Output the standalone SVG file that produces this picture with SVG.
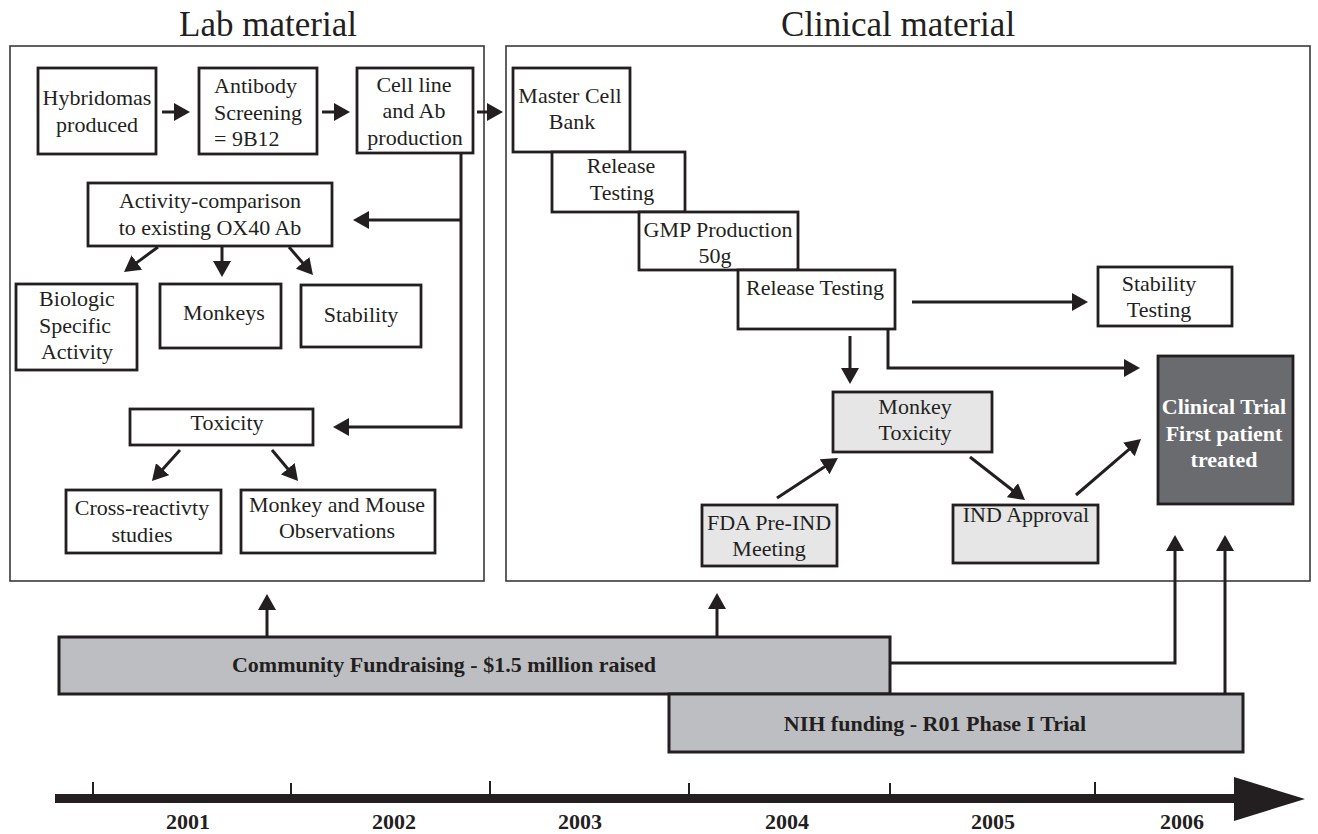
<svg xmlns="http://www.w3.org/2000/svg" width="1318" height="834" viewBox="0 0 1318 834" font-family="'Liberation Serif', Tinos, 'DejaVu Serif', serif">
<style>
text{font-family:'Liberation Serif',Tinos,'DejaVu Serif',serif;fill:#231f20;}
.t{font-size:22px;text-anchor:middle;}
.s{font-size:22px;text-anchor:start;}
.title{font-size:35px;text-anchor:middle;}
.b{font-weight:bold;font-size:22px;text-anchor:middle;}
.w{fill:#ffffff;}
.panel{fill:none;stroke:#3a3a3a;stroke-width:1.6;}
.box{fill:#ffffff;stroke:#231f20;stroke-width:2.8;}
.lg{fill:#e6e6e7;stroke:#231f20;stroke-width:2.8;}
.dk{fill:#6a6b6f;stroke:#231f20;stroke-width:2.8;}
.bar{fill:#bdbec2;stroke:#231f20;stroke-width:3;}
.c{fill:none;stroke:#231f20;stroke-width:3;marker-end:url(#ah);}
.tick{stroke:#231f20;stroke-width:2;}
</style>
<defs>
<marker id="ah" markerUnits="userSpaceOnUse" markerWidth="16" markerHeight="18" viewBox="0 0 16 18" refX="1" refY="9" orient="auto">
<path d="M0,0 L16,9 L0,18 z" fill="#231f20"/>
</marker>
</defs>

<g id="panels">
<rect class="panel" x="10" y="46" width="474" height="535"/>
<rect class="panel" x="506" y="46" width="804" height="535"/>
<text class="title" x="268" y="36">Lab material</text>
<text class="title" x="898" y="36">Clinical material</text>
</g>

<g id="connectors">
<line class="c" x1="162" y1="112" x2="175" y2="112"/>
<line class="c" x1="322" y1="112" x2="335" y2="112"/>
<line class="c" x1="477" y1="112" x2="488" y2="112"/>
<path class="c" d="M461,153 V427 H348"/>
<line class="c" x1="461" y1="220" x2="368" y2="220"/>
<line class="c" x1="158" y1="247" x2="136.1" y2="263.1"/>
<line class="c" x1="222" y1="247" x2="222" y2="262"/>
<line class="c" x1="289" y1="247" x2="303.2" y2="263.6"/>
<line class="c" x1="180" y1="450" x2="162" y2="469.9"/>
<line class="c" x1="272" y1="450" x2="288.4" y2="469.5"/>
<line class="c" x1="850" y1="336" x2="850" y2="369"/>
<line class="c" x1="912" y1="302" x2="1073" y2="302"/>
<path class="c" d="M888,329 V368 H1125"/>
<line class="c" x1="777" y1="498" x2="825.4" y2="466.2"/>
<line class="c" x1="970" y1="457" x2="1013.2" y2="490.8"/>
<line class="c" x1="1076" y1="495" x2="1129.6" y2="448.8"/>
<line class="c" x1="267" y1="637" x2="267" y2="609"/>
<line class="c" x1="717" y1="637" x2="717" y2="608"/>
<path class="c" d="M890,663 H1175 V550"/>
<path class="c" d="M1225,694 V550"/>
</g>

<g id="hybridomas">
<rect class="box" x="38" y="68" width="118" height="86"/>
<text class="t" x="97" y="105">Hybridomas</text>
<text class="t" x="97" y="132">produced</text>
</g>
<g id="antibody-screening">
<rect class="box" x="199" y="68" width="118" height="86"/>
<text class="s" x="214" y="93">Antibody</text>
<text class="s" x="214" y="120">Screening</text>
<text class="s" x="214" y="146">= 9B12</text>
</g>
<g id="cell-line">
<rect class="box" x="357" y="68" width="116" height="85"/>
<text class="t" x="414" y="92">Cell line</text>
<text class="t" x="414" y="118">and Ab</text>
<text class="t" x="415" y="145">production</text>
</g>
<g id="activity-comparison">
<rect class="box" x="88" y="183" width="244" height="63"/>
<text class="t" x="210" y="208">Activity-comparison</text>
<text class="t" x="210" y="235">to existing OX40 Ab</text>
</g>
<g id="biologic">
<rect class="box" x="16" y="284" width="121" height="86"/>
<text class="t" x="77" y="306">Biologic</text>
<text class="t" x="75" y="333">Specific</text>
<text class="t" x="77" y="359">Activity</text>
</g>
<g id="monkeys">
<rect class="box" x="160" y="284" width="121" height="64"/>
<text class="t" x="224" y="320">Monkeys</text>
</g>
<g id="stability">
<rect class="box" x="301" y="285" width="120" height="62"/>
<text class="t" x="361" y="322">Stability</text>
</g>
<g id="toxicity">
<rect class="box" x="130" y="409" width="183" height="36"/>
<text class="t" x="227" y="430">Toxicity</text>
</g>
<g id="cross-reactivity">
<rect class="box" x="66" y="490" width="155" height="63"/>
<text class="t" x="142" y="515">Cross-reactivty</text>
<text class="t" x="142" y="542">studies</text>
</g>
<g id="monkey-mouse">
<rect class="box" x="241" y="490" width="194" height="63"/>
<text class="t" x="337" y="512">Monkey and Mouse</text>
<text class="t" x="337" y="538">Observations</text>
</g>

<g id="master-cell-bank">
<rect class="box" x="513" y="68" width="117" height="84"/>
<text class="t" x="570" y="103">Master Cell</text>
<text class="t" x="572" y="129">Bank</text>
</g>
<g id="release-testing-1">
<rect class="box" x="552" y="152" width="133" height="60"/>
<text class="t" x="621" y="173">Release</text>
<text class="t" x="622" y="200">Testing</text>
</g>
<g id="gmp-production">
<rect class="box" x="639" y="212" width="159" height="58"/>
<text class="t" x="718" y="237">GMP Production</text>
<text class="t" x="715" y="263">50g</text>
</g>
<g id="release-testing-2">
<rect class="box" x="738" y="270" width="157" height="59"/>
<text class="t" x="815" y="295">Release Testing</text>
</g>
<g id="stability-testing">
<rect class="box" x="1098" y="267" width="134" height="59"/>
<text class="t" x="1159" y="291">Stability</text>
<text class="t" x="1159" y="317">Testing</text>
</g>
<g id="monkey-toxicity">
<rect class="lg" x="833" y="392" width="159" height="60"/>
<text class="t" x="915" y="414">Monkey</text>
<text class="t" x="915" y="440">Toxicity</text>
</g>
<g id="fda-pre-ind">
<rect class="lg" x="702" y="505" width="135" height="61"/>
<text class="t" x="769" y="530">FDA Pre-IND</text>
<text class="t" x="769" y="556">Meeting</text>
</g>
<g id="ind-approval">
<rect class="lg" x="953" y="505" width="145" height="58"/>
<text class="t" x="1026" y="522">IND Approval</text>
</g>
<g id="clinical-trial">
<rect class="dk" x="1158" y="356" width="135" height="148"/>
<text class="b w" x="1224" y="414">Clinical Trial</text>
<text class="b w" x="1224" y="441">First patient</text>
<text class="b w" x="1224" y="467">treated</text>
</g>

<g id="community-fundraising">
<rect class="bar" x="59" y="637" width="831" height="57"/>
<text class="b" x="444" y="672">Community Fundraising - $1.5 million raised</text>
</g>
<g id="nih-funding">
<rect class="bar" x="669" y="694" width="574" height="58"/>
<text class="b" x="935" y="731">NIH funding - R01 Phase I Trial</text>
</g>

<g id="timeline">
<rect x="55" y="794" width="1181" height="9" fill="#231f20"/>
<polygon points="1234,777 1305,799 1234,821" fill="#231f20"/>
<line class="tick" x1="93" y1="782" x2="93" y2="795"/>
<line class="tick" x1="291" y1="783" x2="291" y2="795"/>
<line class="tick" x1="490" y1="781" x2="490" y2="795"/>
<line class="tick" x1="689" y1="783" x2="689" y2="795"/>
<line class="tick" x1="890" y1="783" x2="890" y2="795"/>
<line class="tick" x1="1095" y1="782" x2="1095" y2="795"/>
<text class="b" x="188" y="829">2001</text>
<text class="b" x="394" y="829">2002</text>
<text class="b" x="580" y="829">2003</text>
<text class="b" x="787" y="829">2004</text>
<text class="b" x="993" y="829">2005</text>
<text class="b" x="1182" y="829">2006</text>
</g>
</svg>
